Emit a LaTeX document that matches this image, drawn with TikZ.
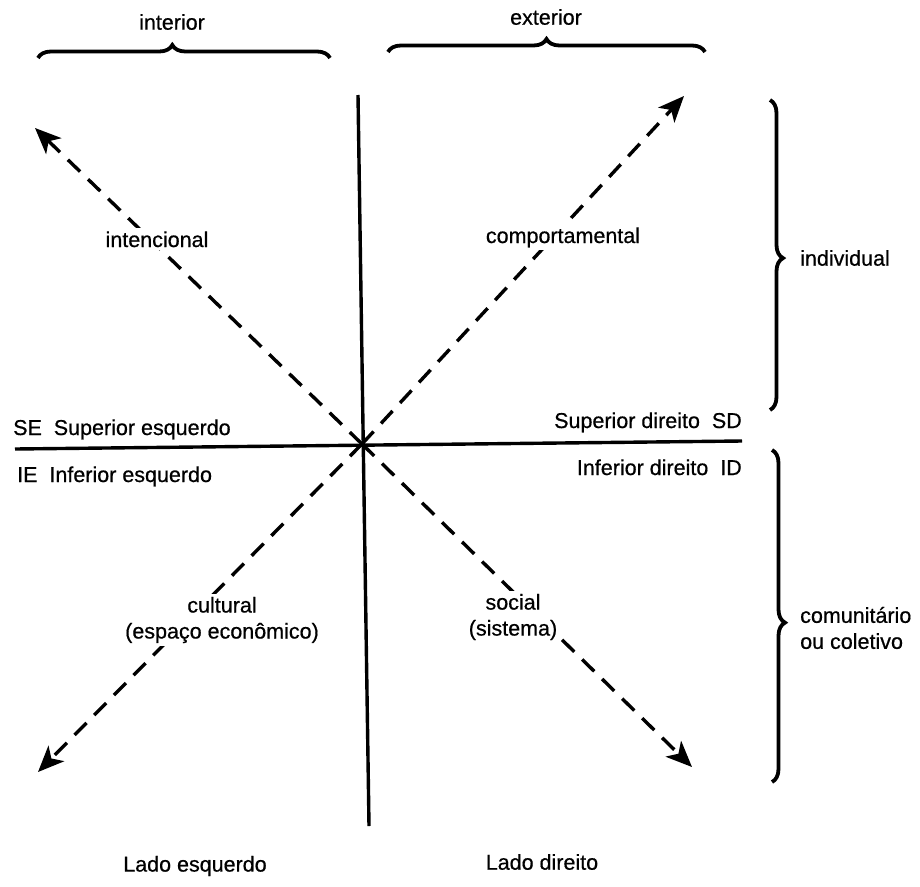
\documentclass[tikz,border=0pt]{standalone}
\usepackage{fontspec}
\setmainfont[FakeBold=0.6]{Liberation Sans}
\usetikzlibrary{arrows.meta,decorations.pathreplacing}
\begin{document}
\begin{tikzpicture}[x=1pt,y=-1pt,
  axis/.style={line width=3.4pt},
  dasharrow/.style={line width=3.4pt, dash pattern=on 17pt off 11pt,
    -{Stealth[length=26pt,width=22pt,inset=7pt]}},
  bracestyle/.style={line width=3.8pt, decorate,
    decoration={brace, amplitude=13pt, aspect=#1}},
  bracestyle/.default=0.5,
  lbl/.style={font=\fontsize{21.5}{26}\selectfont, inner sep=0pt, align=center},
  onlbl/.style={lbl, fill=white, inner sep=3pt}]
\useasboundingbox (0,0) rectangle (920,886);
% axes
\coordinate (vt) at (358,95);
\coordinate (vb) at (369,826);
\coordinate (hl) at (15,449);
\coordinate (hr) at (742,441);
\coordinate (C) at (362,444);
\draw[axis] (vt) -- (vb);
\draw[axis] (hl) -- (hr);
% dashed arrows
\coordinate (ul) at (35,128);
\coordinate (ur) at (684,96);
\coordinate (ll) at (38,772);
\coordinate (lr) at (692,767);
\draw[dasharrow] (C) -- (ul);
\draw[dasharrow] (C) -- (ur);
\draw[dasharrow] (C) -- (ll);
\draw[dasharrow] (C) -- (lr);
% top braces
\coordinate (ib1) at (38,58);
\coordinate (ib2) at (330,58);
\coordinate (eb1) at (388,52);
\coordinate (eb2) at (705,52);
\draw[bracestyle=0.46] (ib1) -- (ib2);
\draw[bracestyle=0.5] (eb1) -- (eb2);
% right braces
\coordinate (rb1) at (770,100);
\coordinate (rb2) at (770,410);
\coordinate (rb3) at (772,450);
\coordinate (rb4) at (772,782);
\draw[bracestyle=0.51] (rb1) -- (rb2);
\draw[bracestyle=0.52] (rb3) -- (rb4);
% labels
\node[lbl] (interior) at (172,22) {interior};
\node[lbl] (exterior) at (546,17) {exterior};
\node[lbl,anchor=west] (individual) at (800,258) {individual};
\node[lbl,anchor=west,align=left] (coletivo) at (800,628) {comunitário\\ou coletivo};
\node[onlbl,anchor=base] (intencional) at (157,247) {intencional};
\node[onlbl,anchor=base] (comport) at (563,243) {comportamental};
\node[lbl,anchor=base west] (SE) at (13,435) {SE\ \ Superior esquerdo};
\node[lbl,anchor=base west] (IE) at (17,482) {IE\ \ Inferior esquerdo};
\node[lbl,anchor=base east] (SD) at (742,428) {Superior direito\ \ SD};
\node[lbl,anchor=base east] (ID) at (742,475) {Inferior direito\ \ ID};
\node[onlbl] (cultural) at (222,620) {cultural\\(espaço econômico)};
\node[onlbl] (social) at (513,617) {social\\(sistema)};
\node[lbl] (lesq) at (195,866) {Lado esquerdo};
\node[lbl] (ldir) at (542,862) {Lado direito};
\end{tikzpicture}
\end{document}
